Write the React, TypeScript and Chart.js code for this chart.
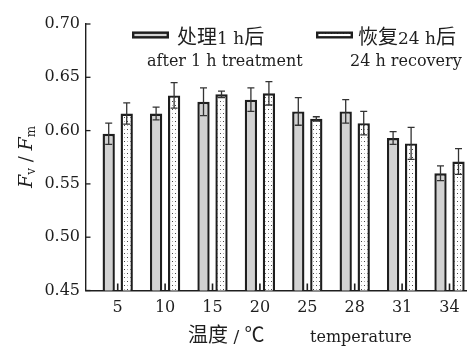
import React, { useEffect, useRef } from 'react';
import { Chart, registerables } from 'chart.js';

Chart.register(...registerables);

const categories = ['5', '10', '15', '20', '25', '28', '31', '34'];
const treatment = [0.597, 0.616, 0.627, 0.629, 0.618, 0.618, 0.593, 0.560];
const treatmentErr = [0.010, 0.006, 0.013, 0.011, 0.013, 0.011, 0.006, 0.007];
const recovery = [0.616, 0.633, 0.634, 0.635, 0.611, 0.607, 0.588, 0.571];
const recoveryErr = [0.010, 0.012, 0.003, 0.011, 0.002, 0.011, 0.015, 0.012];
const yTicks = [0.45, 0.5, 0.55, 0.6, 0.65, 0.7];

const legendCn: string[][] = [
  ['处理', '1 h', '后'],
  ['恢复', '24 h', '后'],
];
const legendEn = ['after 1 h treatment', '24 h recovery'];
const xTitleCn: string[] = ['温度', ' / ', '℃'];
const xTitleEn = 'temperature';

const SERIF = '"DejaVu Serif", "Noto Sans CJK SC", serif';
const CJK = '"Noto Sans CJK SC", sans-serif';
const INK = '#1e1e1e';
const GRAY = '#d2d2d2';

function makeDots(ctx: CanvasRenderingContext2D) {
  const c = document.createElement('canvas');
  c.width = 6;
  c.height = 8;
  const g = c.getContext('2d')!;
  g.fillStyle = '#ffffff';
  g.fillRect(0, 0, 6, 8);
  g.fillStyle = '#444';
  g.fillRect(1, 1, 1, 1);
  g.fillRect(4, 5, 1, 1);
  g.fillStyle = '#aaa';
  g.fillRect(4, 1, 1, 1);
  g.fillRect(1, 5, 1, 1);
  return ctx.createPattern(c, 'repeat')!;
}

function drawMixed(ctx: CanvasRenderingContext2D, segs: string[], x: number, y: number, cjkSize: number, latSize: number) {
  let cx = x;
  segs.forEach((s) => {
    const isCjk = /[\u4e00-\u9fff\u2103]/.test(s);
    ctx.font = isCjk ? `${cjkSize}px ${CJK}` : `${latSize}px ${SERIF}`;
    ctx.fillText(s, cx, y);
    cx += ctx.measureText(s).width;
  });
}

export default function App() {
  const ref = useRef<HTMLCanvasElement>(null);

  useEffect(() => {
    const canvas = ref.current!;
    const ctx0 = canvas.getContext('2d')!;
    const dots = makeDots(ctx0);

    const decor = {
      id: 'decor',
      afterDatasetsDraw(chart: any) {
        const ctx = chart.ctx as CanvasRenderingContext2D;
        const ys = chart.scales.y;
        const xs = chart.scales.x;
        const area = chart.chartArea;
        ctx.save();
        const sets: [number[], number[]][] = [
          [treatment, treatmentErr],
          [recovery, recoveryErr],
        ];
        ctx.strokeStyle = '#333';
        ctx.lineWidth = 1.3;
        sets.forEach(([vals, errs], di) => {
          const meta = chart.getDatasetMeta(di);
          meta.data.forEach((el: any, i: number) => {
            const x = el.x;
            const t = ys.getPixelForValue(vals[i] + errs[i]);
            const b = ys.getPixelForValue(vals[i] - errs[i]);
            ctx.beginPath();
            ctx.moveTo(x, t);
            ctx.lineTo(x, b);
            ctx.moveTo(x - 3.5, t);
            ctx.lineTo(x + 3.5, t);
            ctx.moveTo(x - 3.5, b);
            ctx.lineTo(x + 3.5, b);
            ctx.stroke();
          });
        });
        ctx.strokeStyle = INK;
        ctx.lineWidth = 1.3;
        yTicks.forEach((v) => {
          const y = ys.getPixelForValue(v);
          ctx.beginPath();
          ctx.moveTo(area.left, y);
          ctx.lineTo(area.left + 4.5, y);
          ctx.stroke();
        });
        ctx.lineWidth = 1.6;
        categories.forEach((_, i) => {
          const x = xs.getPixelForValue(i);
          ctx.beginPath();
          ctx.moveTo(x, area.bottom);
          ctx.lineTo(x, area.bottom - 7);
          ctx.stroke();
        });
        ctx.restore();
      },
      afterDraw(chart: any) {
        const ctx = chart.ctx as CanvasRenderingContext2D;
        ctx.save();
        ctx.fillStyle = INK;
        const sw = [
          { x: 132, fill: GRAY as any },
          { x: 316, fill: dots as any },
        ];
        const textX = [177, 358];
        const enX = [147, 350];
        ctx.textBaseline = 'alphabetic';
        ctx.textAlign = 'left';
        sw.forEach((s, i) => {
          ctx.fillStyle = s.fill;
          ctx.fillRect(s.x, 31.5, 37, 7);
          ctx.strokeStyle = INK;
          ctx.lineWidth = 2.4;
          ctx.strokeRect(s.x + 1.2, 32.7, 34.6, 4.6);
          ctx.fillStyle = INK;
          drawMixed(ctx, legendCn[i], textX[i], 44, 20, 17);
          ctx.font = `16px ${SERIF}`;
          ctx.fillText(legendEn[i], enX[i], 66);
        });
        drawMixed(ctx, xTitleCn, 188, 342, 20, 17);
        ctx.font = `16px ${SERIF}`;
        ctx.fillText(xTitleEn, 310, 342);
        // y title
        ctx.translate(32, 157);
        ctx.rotate(-Math.PI / 2);
        const parts = [
          { t: 'F', f: `italic 19px ${SERIF}`, dy: 0 },
          { t: 'v', f: `12px ${SERIF}`, dy: 3 },
          { t: ' / ', f: `18px ${SERIF}`, dy: 0 },
          { t: 'F', f: `italic 19px ${SERIF}`, dy: 0 },
          { t: 'm', f: `12px ${SERIF}`, dy: 3 },
        ];
        let total = 0;
        parts.forEach((p) => {
          ctx.font = p.f;
          total += ctx.measureText(p.t).width;
        });
        let x = -total / 2;
        parts.forEach((p) => {
          ctx.font = p.f;
          ctx.fillText(p.t, x, p.dy);
          x += ctx.measureText(p.t).width;
        });
        ctx.restore();
      },
    };

    const chart = new Chart(canvas, {
      type: 'bar',
      data: {
        datasets: [
          {
            label: legendEn[0],
            data: treatment.map((v, i) => ({ x: i, y: v })),
            backgroundColor: GRAY,
            borderColor: INK,
            borderWidth: 2.4,
            borderSkipped: false,
          },
          {
            label: legendEn[1],
            data: recovery.map((v, i) => ({ x: i, y: v })),
            backgroundColor: dots,
            borderColor: INK,
            borderWidth: 2.4,
            borderSkipped: false,
          },
        ],
      },
      options: {
        animation: false,
        responsive: false,
        layout: { padding: { top: 24, right: 3, left: 0, bottom: 0 } },
        datasets: {
          bar: { categoryPercentage: 0.76, barPercentage: 0.683 },
        },
        plugins: {
          legend: { display: false },
          tooltip: { enabled: false },
        },
        scales: {
          x: {
            type: 'linear',
            offset: false,
            min: -0.669,
            max: 7.348,
            grid: { display: false, drawTicks: false, offset: false },
            border: { display: true, color: INK, width: 1.4 },
            afterBuildTicks: (s: any) => {
              s.ticks = categories.map((_, i) => ({ value: i }));
            },
            afterFit: (s: any) => {
              s.height = 56.5;
            },
            ticks: {
              autoSkip: false,
              maxRotation: 0,
              padding: 8,
              color: INK,
              font: { family: SERIF, size: 16 },
              callback: (v: any) => categories[v as number] ?? '',
            },
          },
          y: {
            min: 0.45,
            max: 0.7,
            grid: { display: false, drawTicks: false },
            border: { display: true, color: INK, width: 1.4 },
            afterFit: (s: any) => {
              s.width = 86;
            },
            afterBuildTicks: (s: any) => {
              s.ticks = yTicks.map((v) => ({ value: v }));
            },
            ticks: {
              padding: 6,
              color: INK,
              font: { family: SERIF, size: 16 },
              callback: (v: any) => Number(v).toFixed(2),
            },
          },
        },
      },
      plugins: [decor],
    } as any);

    return () => chart.destroy();
  }, []);

  return (
    <div style={{ position: 'absolute', left: 0, top: 0, width: 469, height: 347, background: '#fff' }}>
      <canvas ref={ref} width={469} height={347} style={{ display: 'block' }} />
    </div>
  );
}
